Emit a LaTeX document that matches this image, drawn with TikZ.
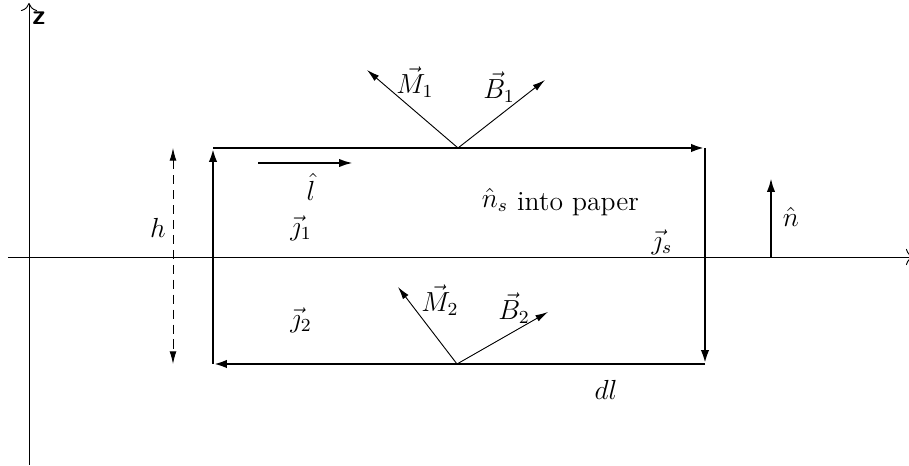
\documentclass[tikz,border=0pt]{standalone}
\usetikzlibrary{arrows.meta}
\tikzset{
  frame/.style={line width=1.3pt,-{Latex[length=6pt,width=3.6pt]}},
  thinvec/.style={line width=0.4pt,-{Latex[length=5.5pt,width=3pt]}},
  axisline/.style={line width=0.4pt},
  lbl/.style={inner sep=0pt,font=\large}
}
\begin{document}
\begin{tikzpicture}[x=0.435pt,y=-0.435pt]
\useasboundingbox (0,0) rectangle (909,466);
% axes
\coordinate (zb) at (29,465);
\coordinate (zt) at (29,3);
\draw[axisline,-{To[length=3.5pt,width=7pt]}] (zb) -- (zt);
\node[lbl,font=\large\sffamily\bfseries] (zl) at (39,18) {z};
\coordinate (xl) at (8,257);
\coordinate (xr) at (914,257);
\draw[axisline,-{To[length=3.5pt,width=7pt]}] (xl) -- (xr);
% rectangle
\coordinate (A) at (213,148);
\coordinate (B) at (705,148);
\coordinate (C) at (705,364);
\coordinate (D) at (213,364);
\draw[frame] (A) -- (B);
\draw[frame] (B) -- (C);
\draw[frame] (C) -- (D);
\draw[frame] (D) -- (A);
% h
\coordinate (ht) at (173,148);
\coordinate (hb) at (173,364);
\draw[line width=0.4pt,dash pattern=on 4pt off 2.5pt,{Latex[length=5.5pt,width=3pt]}-{Latex[length=5.5pt,width=3pt]}] (ht) -- (hb);
\node[lbl] (h) at (158,228) {$h$};
% l hat
\coordinate (l1) at (258,163);
\coordinate (l2) at (353,163);
\draw[line width=1pt,-{Latex[length=6pt,width=3.6pt]}] (l1) -- (l2);
\node[lbl] (lh) at (311,187) {$\hat{l}$};
% j labels
\node[lbl] (j1) at (301,228) {$\vec{\jmath}_1$};
\node[lbl] (j2) at (301,320) {$\vec{\jmath}_2$};
\node[lbl] (js) at (662,242) {$\vec{\jmath}_s$};
% ns
\node[lbl] (ns) at (495,200) {$\hat{n}_s$};
\node[lbl] (ip) at (578,204) {into paper};
% M1, B1
\coordinate (O1) at (458,148);
\coordinate (M1t) at (367,70);
\coordinate (B1t) at (545,80);
\draw[thinvec] (O1) -- (M1t);
\draw[thinvec] (O1) -- (B1t);
\node[lbl] (M1) at (415,82) {$\vec{M}_1$};
\node[lbl] (B1) at (499,87) {$\vec{B}_1$};
% M2, B2
\coordinate (O2) at (457,364);
\coordinate (M2t) at (398,287);
\coordinate (B2t) at (548,312);
\draw[thinvec] (O2) -- (M2t);
\draw[thinvec] (O2) -- (B2t);
\node[lbl] (M2) at (440,300) {$\vec{M}_2$};
\node[lbl] (B2) at (514,308) {$\vec{B}_2$};
% n hat
\coordinate (n1) at (771,257);
\coordinate (n2) at (771,178);
\draw[line width=1pt,-{Latex[length=6pt,width=3.6pt]}] (n1) -- (n2);
\node[lbl] (nh) at (791,217) {$\hat{n}$};
% dl
\node[lbl] (dl) at (606,390) {$dl$};
\end{tikzpicture}
\end{document}
